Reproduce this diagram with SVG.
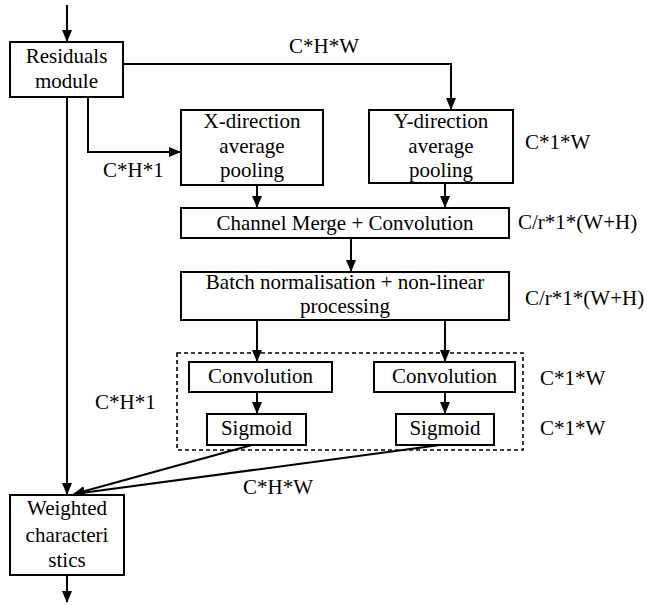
<svg xmlns="http://www.w3.org/2000/svg" width="647" height="605" viewBox="0 0 647 605" font-family="'Liberation Serif', 'Times New Roman', Times, 'DejaVu Serif', serif">
  <style>
    .box { fill: #ffffff; stroke: #000000; stroke-width: 2; }
    .group { fill: none; stroke: #000000; stroke-width: 1.6; stroke-dasharray: 4 3; }
    .wire { fill: none; stroke: #000000; stroke-width: 2; }
    text { font-family: "Liberation Serif", "Times New Roman", Times, "DejaVu Serif", serif; font-size: 21px; fill: #000000; }
    .c { text-anchor: middle; }
  </style>
  <defs>
    <marker id="arrow" markerWidth="12" markerHeight="12" refX="11" refY="6" orient="auto" markerUnits="userSpaceOnUse">
      <path d="M0,1 L12,6 L0,11 Z" fill="#000000"/>
    </marker>
  </defs>

  <rect x="0" y="0" width="647" height="605" fill="#ffffff"/>

  <!-- dashed frame around the two convolution/sigmoid branches -->
  <rect class="group" x="177" y="353" width="346" height="97"/>

  <g id="connectors">
    <path class="wire" d="M67,5 V41" marker-end="url(#arrow)"/>
    <path class="wire" d="M123,64 H451 V109" marker-end="url(#arrow)"/>
    <path class="wire" d="M88,97 V152 H180" marker-end="url(#arrow)"/>
    <path class="wire" d="M67,97 V494" marker-end="url(#arrow)"/>
    <path class="wire" d="M257,185 V207" marker-end="url(#arrow)"/>
    <path class="wire" d="M445,183 V207" marker-end="url(#arrow)"/>
    <path class="wire" d="M351,238 V271" marker-end="url(#arrow)"/>
    <path class="wire" d="M257,320 V361" marker-end="url(#arrow)"/>
    <path class="wire" d="M445,320 V361" marker-end="url(#arrow)"/>
    <path class="wire" d="M257,392 V413" marker-end="url(#arrow)"/>
    <path class="wire" d="M445,392 V413" marker-end="url(#arrow)"/>
    <path class="wire" d="M252,445 L74,494" marker-end="url(#arrow)"/>
    <path class="wire" d="M440,445 L74,494" marker-end="url(#arrow)"/>
    <path class="wire" d="M67,575 V602" marker-end="url(#arrow)"/>
  </g>

  <g id="residuals">
    <rect class="box" x="10" y="42" width="113" height="55"/>
    <text class="c" x="66.5" y="63">Residuals</text>
    <text class="c" x="66.5" y="88">module</text>
  </g>

  <g id="x-pooling">
    <rect class="box" x="181" y="110" width="142" height="75"/>
    <text class="c" x="252" y="128">X-direction</text>
    <text class="c" x="252" y="153">average</text>
    <text class="c" x="252" y="177">pooling</text>
  </g>

  <g id="y-pooling">
    <rect class="box" x="369" y="110" width="144" height="73"/>
    <text class="c" x="441" y="128">Y-direction</text>
    <text class="c" x="441" y="153">average</text>
    <text class="c" x="441" y="177">pooling</text>
  </g>

  <g id="merge">
    <rect class="box" x="181" y="208" width="328" height="30"/>
    <text class="c" x="345" y="230">Channel Merge + Convolution</text>
  </g>

  <g id="batch-norm">
    <rect class="box" x="181" y="272" width="328" height="48"/>
    <text class="c" x="345" y="289">Batch normalisation + non-linear</text>
    <text class="c" x="345" y="313">processing</text>
  </g>

  <g id="conv-left">
    <rect class="box" x="189" y="362" width="143" height="30"/>
    <text class="c" x="260.5" y="383">Convolution</text>
  </g>

  <g id="conv-right">
    <rect class="box" x="374" y="362" width="141" height="30"/>
    <text class="c" x="444.5" y="383">Convolution</text>
  </g>

  <g id="sigmoid-left">
    <rect class="box" x="207" y="414" width="99" height="31"/>
    <text class="c" x="256.5" y="435">Sigmoid</text>
  </g>

  <g id="sigmoid-right">
    <rect class="box" x="396" y="414" width="98" height="31"/>
    <text class="c" x="445" y="435">Sigmoid</text>
  </g>

  <g id="weighted">
    <rect class="box" x="10" y="495" width="114" height="80"/>
    <text class="c" x="67" y="515">Weighted</text>
    <text class="c" x="67" y="542">characteri</text>
    <text class="c" x="67" y="567">stics</text>
  </g>

  <g id="labels">
    <text x="289" y="53">C*H*W</text>
    <text x="103" y="177">C*H*1</text>
    <text x="525" y="149">C*1*W</text>
    <text x="518" y="229">C/r*1*(W+H)</text>
    <text x="525" y="305">C/r*1*(W+H)</text>
    <text x="540" y="385">C*1*W</text>
    <text x="540" y="435">C*1*W</text>
    <text x="95" y="409">C*H*1</text>
    <text x="243" y="494">C*H*W</text>
  </g>
</svg>
